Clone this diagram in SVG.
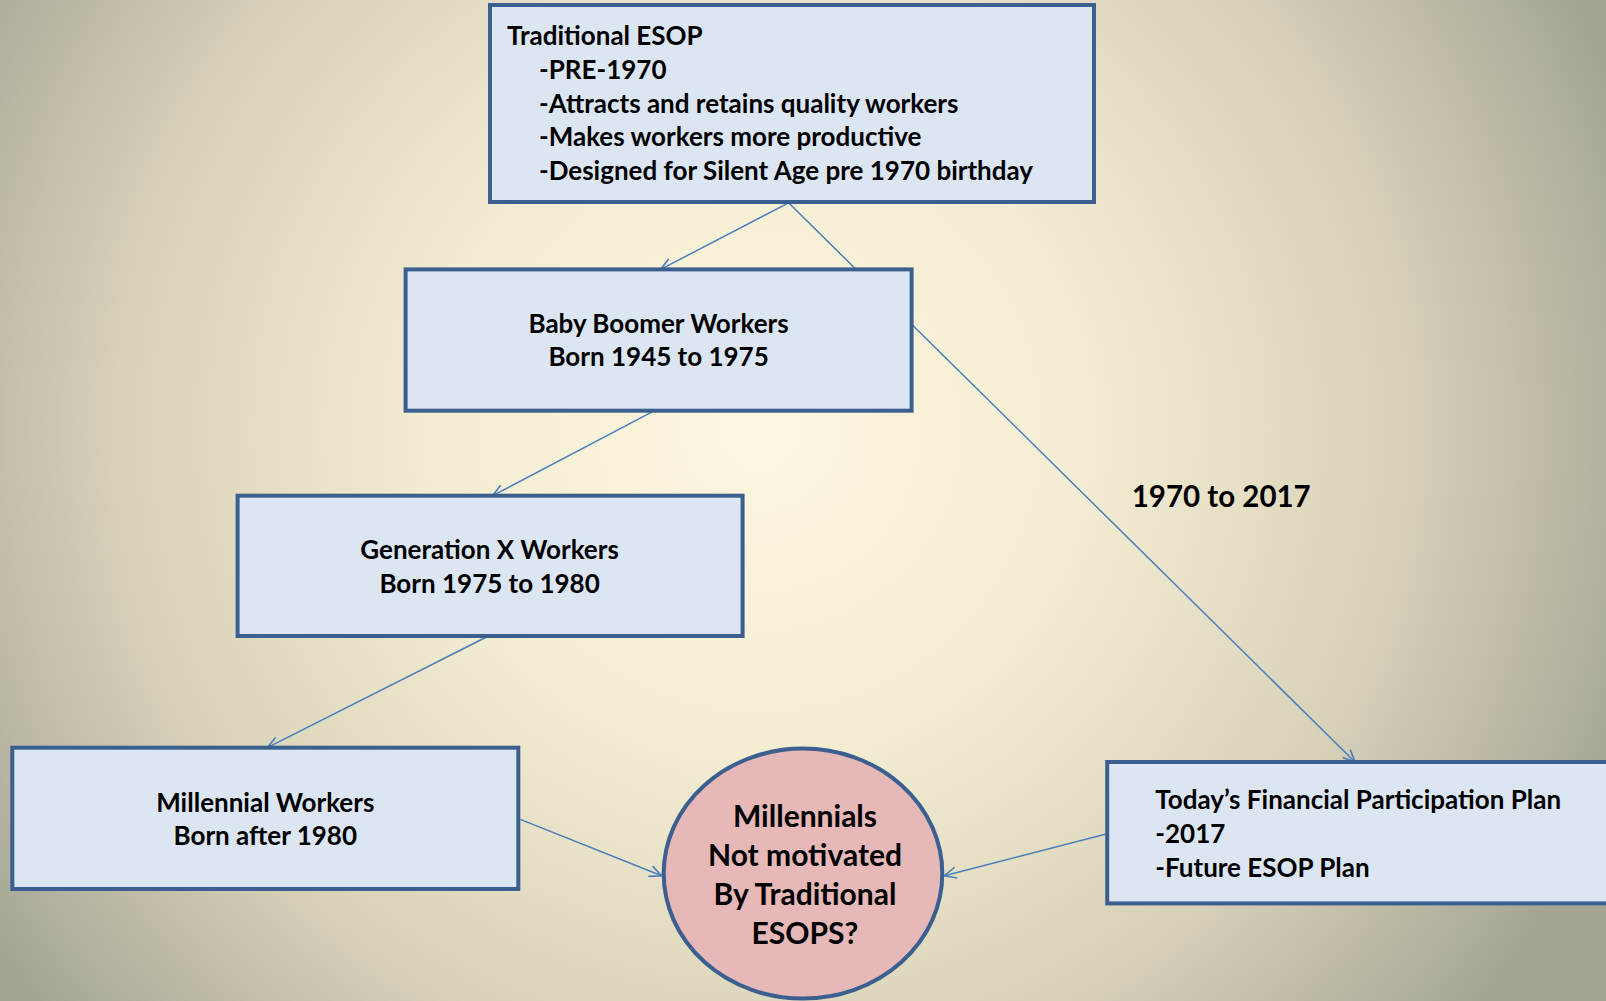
<svg xmlns="http://www.w3.org/2000/svg" width="1606" height="1001" viewBox="0 0 1606 1001">
  <defs>
    <radialGradient id="bg" gradientUnits="userSpaceOnUse" cx="760" cy="430" r="920">
      <stop offset="0" stop-color="#FCF7DF"/>
      <stop offset="0.35" stop-color="#F3EDD3"/>
      <stop offset="0.7" stop-color="#D7D1B8"/>
      <stop offset="1" stop-color="#A6A595"/>
    </radialGradient>
    <marker id="open" viewBox="0 0 14 14" refX="13" refY="7" markerWidth="14" markerHeight="14" markerUnits="userSpaceOnUse" orient="auto">
      <path d="M1,1.5 L13,7 L1,12.5" fill="none" stroke="#4A7EBB" stroke-width="1.6"/>
    </marker>
  </defs>
  <style>
    .box { fill: #DCE6F2; stroke: #3B5F8E; stroke-width: 4; }
    .oval { fill: #E6B8B7; stroke: #3B5F8E; stroke-width: 4; }
    .link { fill: none; stroke: #4A7EBB; stroke-width: 1.5; }
    .t { font-family: Lato, "Liberation Sans", sans-serif; font-weight: bold; font-size: 26px; fill: #000; }
    .c { text-anchor: middle; }
    .big { font-size: 30px; }
  </style>

  <rect width="1606" height="1001" fill="url(#bg)"/>

  <!-- connectors, drawn under the boxes -->
  <g id="connectors">
    <line class="link" x1="788.6" y1="202.8" x2="660.6" y2="269.4" marker-end="url(#open)"/>
    <line class="link" x1="788.6" y1="202.8" x2="1355" y2="762" marker-end="url(#open)"/>
    <line class="link" x1="654.5" y1="410.7" x2="492.6" y2="495.7" marker-end="url(#open)"/>
    <line class="link" x1="486.5" y1="637" x2="267.3" y2="747.7" marker-end="url(#open)"/>
    <line class="link" x1="520.3" y1="819.4" x2="661.6" y2="875.7" marker-end="url(#open)"/>
    <line class="link" x1="1107.2" y1="833.7" x2="944.3" y2="875.7" marker-end="url(#open)"/>
    <text class="t" style="font-size:29.5px" x="1131.7" y="507">1970 to 2017</text>
  </g>

  <g id="traditional-esop">
    <rect class="box" x="490" y="5" width="604" height="197"/>
    <text class="t" x="507" y="45">Traditional ESOP</text>
    <text class="t" x="539" y="79">-PRE-1970</text>
    <text class="t" x="539" y="112.6">-Attracts and retains quality workers</text>
    <text class="t" x="539" y="146.4">-Makes workers more productive</text>
    <text class="t" x="539" y="180.2">-Designed for Silent Age pre 1970 birthday</text>
  </g>

  <g id="baby-boomer">
    <rect class="box" x="405.6" y="269.4" width="506" height="141.3"/>
    <text class="t c" x="658.6" y="332.6">Baby Boomer Workers</text>
    <text class="t c" x="658.6" y="366.4">Born 1945 to 1975</text>
  </g>

  <g id="generation-x">
    <rect class="box" x="237.6" y="495.7" width="505" height="140.3"/>
    <text class="t c" x="489.6" y="559">Generation X Workers</text>
    <text class="t c" x="489.6" y="592.8">Born 1975 to 1980</text>
  </g>

  <g id="millennial">
    <rect class="box" x="12.3" y="747.7" width="506" height="141.3"/>
    <text class="t c" x="265.3" y="812">Millennial Workers</text>
    <text class="t c" x="265.3" y="845">Born after 1980</text>
  </g>

  <g id="not-motivated">
    <ellipse class="oval" cx="803" cy="873.6" rx="139.3" ry="125"/>
    <text class="t c big" x="805" y="826.8">Millennials</text>
    <text class="t c big" x="805" y="865.7">Not motivated</text>
    <text class="t c big" x="805" y="904.6">By Traditional</text>
    <text class="t c big" x="805" y="943.5">ESOPS?</text>
  </g>

  <g id="todays-plan">
    <rect class="box" x="1107.2" y="762" width="520" height="141.4"/>
    <text class="t" x="1155.3" y="809">Today’s Financial Participation Plan</text>
    <text class="t" x="1155.3" y="842.7">-2017</text>
    <text class="t" x="1155.3" y="876.5">-Future ESOP Plan</text>
  </g>
</svg>
